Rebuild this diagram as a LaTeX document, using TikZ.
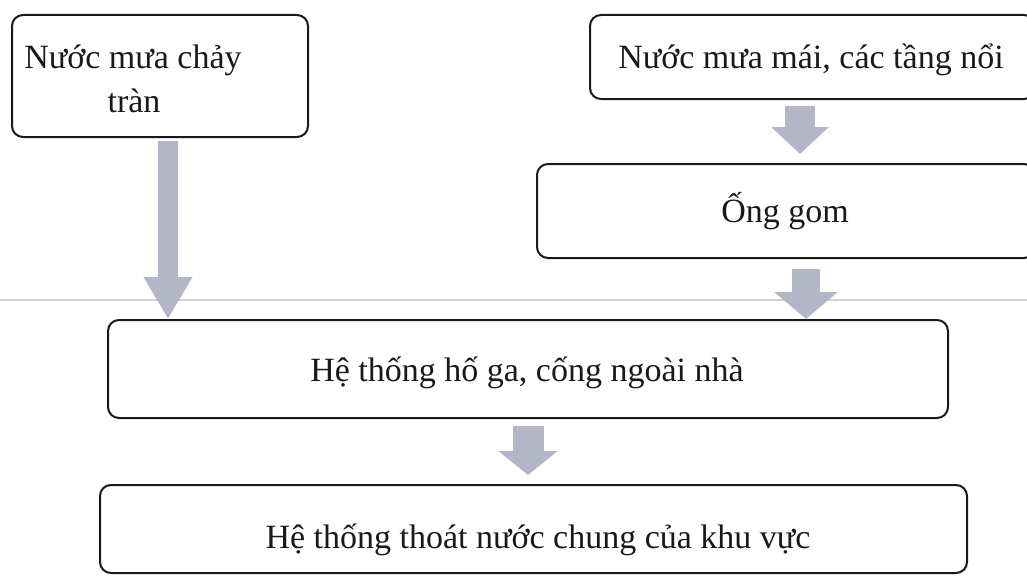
\documentclass[tikz,border=0pt]{standalone}
\usepackage{fontspec}
\setmainfont{Liberation Serif}
\usetikzlibrary{arrows.meta,calc}
\definecolor{arrowfill}{RGB}{178,182,198}
\definecolor{scanline}{RGB}{210,210,210}
\begin{document}
\begin{tikzpicture}[x=1pt,y=-1pt,
  box/.style={draw=black!90, line width=2pt, rounded corners=11pt, inner sep=0pt},
  lbl/.style={font=\fontsize{34}{44}\selectfont, inner sep=0pt, anchor=base, text=black!90},
  flowarrow/.style={draw=arrowfill, line width=#1},
]
\clip (0,0) rectangle (1027,578);
\fill[white] (0,0) rectangle (1027,578);
% faint scan line
\draw[scanline, line width=1.2pt] (0,300) -- (1027,300);

% boxes
\node[box, minimum width=296pt, minimum height=122pt] (b1) at (160,76) {};
\node[box, minimum width=445pt, minimum height=84pt] (b2) at (812.5,57) {};
\node[box, minimum width=498pt, minimum height=94pt] (b3) at (786,211) {};
\node[box, minimum width=840pt, minimum height=98pt] (b4) at (528,369) {};
\node[box, minimum width=867pt, minimum height=88pt] (b5) at (533.5,529) {};

% texts
\node[lbl] (t1a) at (133,68) {Nước mưa chảy};
\node[lbl] (t1b) at (134,112) {tràn};
\node[lbl] (t2) at (811,68) {Nước mưa mái, các tầng nổi};
\node[lbl] (t3) at (785,222) {Ống gom};
\node[lbl] (t4) at (527,381) {Hệ thống hố ga, cống ngoài nhà};
\node[lbl] (t5) at (538,548) {Hệ thống thoát nước chung của khu vực};

% arrows
\coordinate (a1s) at ($(b1.south)+(8,3)$);
\coordinate (a1e) at (a1s |- b4.north);
\draw[flowarrow=20pt, -{Triangle[width=46pt,length=42pt]}] (a1s) -- (a1e);

\coordinate (a2s) at ($(b2.south)+(-12.5,6)$);
\coordinate (a2e) at ($(a2s |- b3.north)+(0,-9)$);
\draw[flowarrow=30pt, -{Triangle[width=56pt,length=27pt]}] (a2s) -- (a2e);

\coordinate (a3s) at ($(b3.south)+(20,10)$);
\coordinate (a3e) at (a3s |- b4.north);
\draw[flowarrow=28pt, -{Triangle[width=62pt,length=27pt]}] (a3s) -- (a3e);

\coordinate (a4s) at ($(b4.south)+(0,7)$);
\coordinate (a4e) at ($(a4s |- b5.north)+(0,-9)$);
\draw[flowarrow=31pt, -{Triangle[width=58pt,length=24pt]}] (a4s) -- (a4e);
\end{tikzpicture}
\end{document}
